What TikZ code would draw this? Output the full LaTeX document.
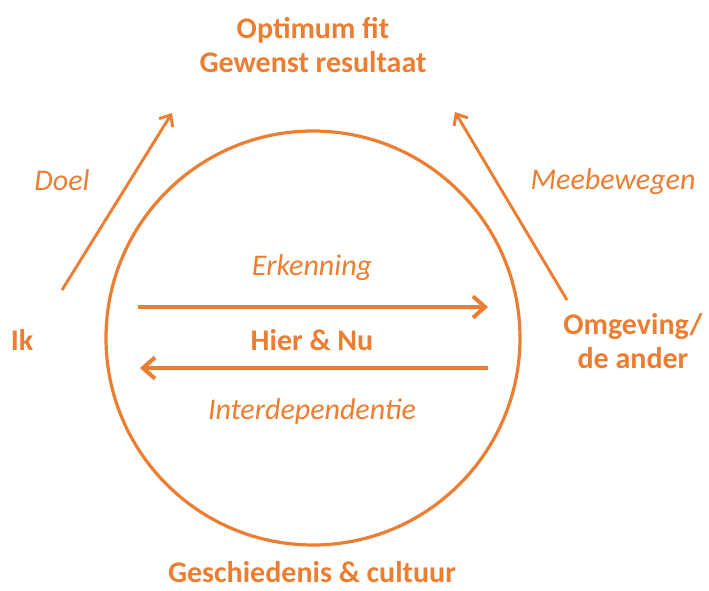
\documentclass[tikz,border=0pt]{standalone}
\usepackage{fontspec}
\setmainfont{Carlito}
\usetikzlibrary{arrows.meta}
\definecolor{oranje}{RGB}{237,125,49}

\begin{document}
\begin{tikzpicture}[x=0.75pt, y=-0.75pt,
    tekst/.style={text=oranje, font=\fontsize{22.5}{25.5}\selectfont\bfseries, align=center},
    schuin/.style={text=oranje, font=\fontsize{22.5}{25.5}\selectfont\itshape},
    pijl/.style={draw=oranje, line width=3pt, -{Straight Barb[length=9pt, width=16pt, line width=3pt]}},
    lijn/.style={draw=oranje, line width=2.2pt, -{Straight Barb[length=7pt, width=12pt, line width=2.2pt]}}]
    \useasboundingbox (0,0) rectangle (709,590);
    \draw[oranje, line width=2.4pt] (313,338) circle (207);
    \node[tekst] (doelen) at (313,45) {Optimum fit\\Gewenst resultaat};
    \node[tekst] (ik) at (22,340) {Ik};
    \node[tekst] (ander) at (633,341) {Omgeving/\\de ander};
    \node[tekst] (hiernu) at (312,340) {Hier \& Nu};
    \node[tekst, inner sep=0pt] (geschiedenis) at (312,572) {Geschiedenis \& cultuur};
    \node[schuin] (doel) at (62,180) {Doel};
    \node[schuin] (meebewegen) at (613,182) {Meebewegen};
    \node[schuin] (erkenning) at (312,268) {Erkenning};
    \node[schuin] (inter) at (312,411) {Interdependentie};
    \coordinate (A) at (62,290);
    \coordinate (B) at (172,113);
    \coordinate (C) at (567,300);
    \coordinate (D) at (455,112);
    \coordinate (E) at (138,307);
    \coordinate (F) at (488,307);
    \coordinate (G) at (488,368);
    \coordinate (H) at (140,368);
    \draw[lijn] (A) -- (B);
    \draw[lijn] (C) -- (D);
    \draw[pijl] (E) -- (F);
    \draw[pijl] (G) -- (H);
\end{tikzpicture}
\end{document}
